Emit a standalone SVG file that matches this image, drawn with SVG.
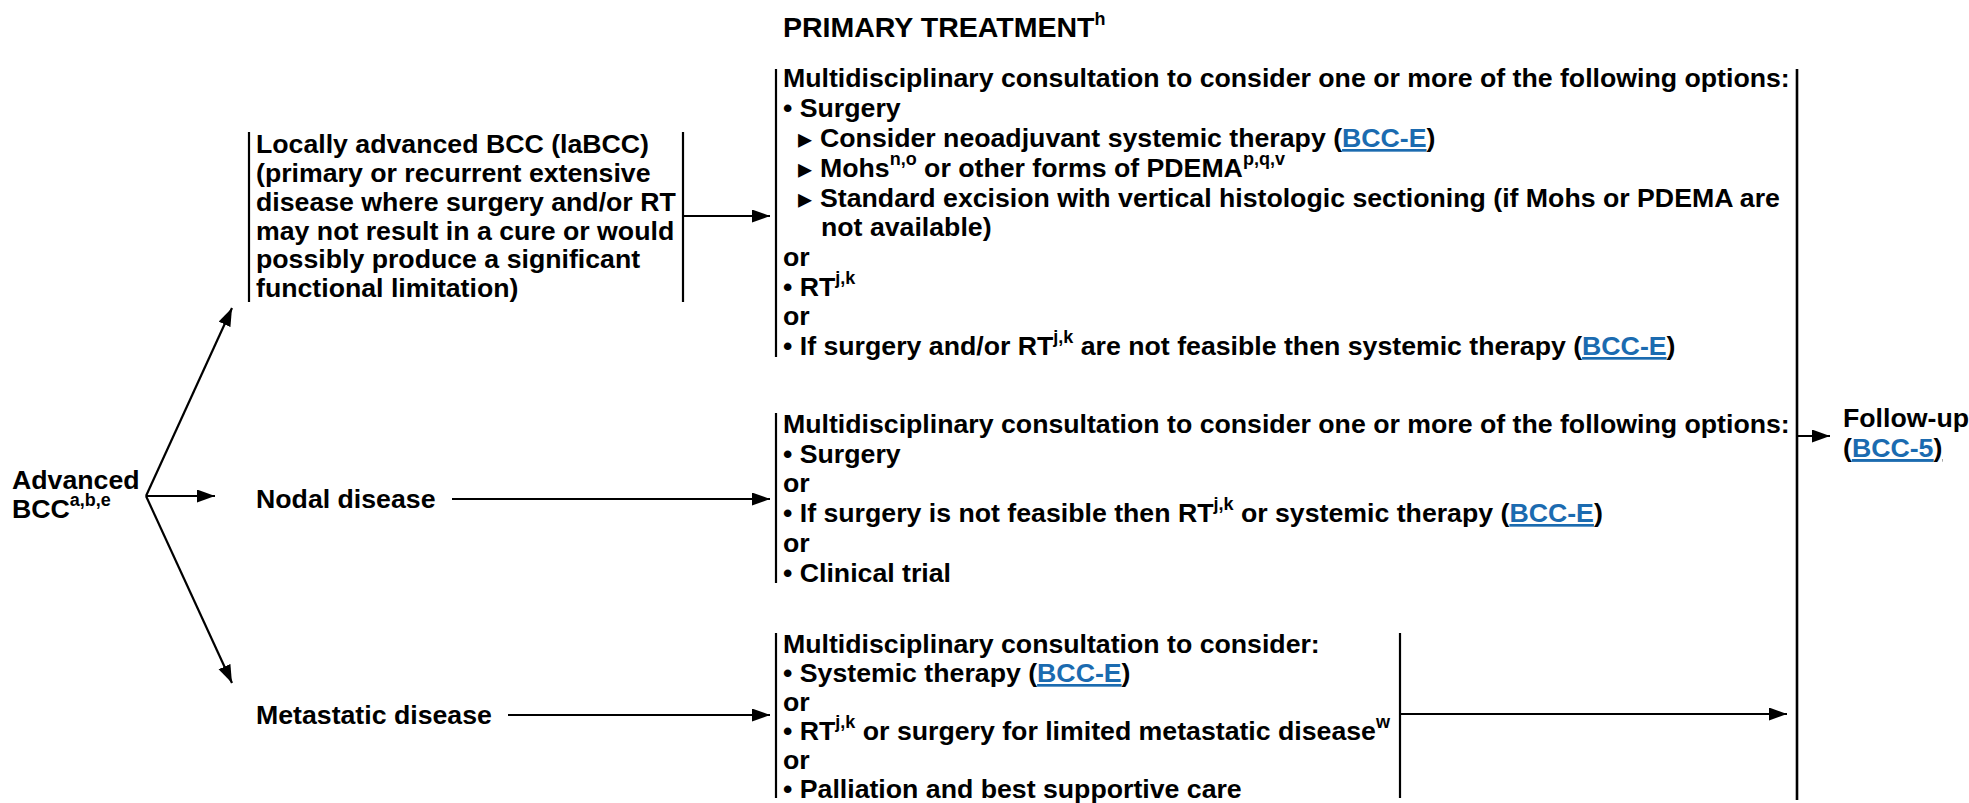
<svg xmlns="http://www.w3.org/2000/svg" width="1969" height="803" viewBox="0 0 1969 803">
<style>
  .t { font-family: "Liberation Sans", Arial, "DejaVu Sans", sans-serif; font-weight: bold; font-size: 26.7px; fill: #000; }
  .ttl { font-size: 28.5px; }
  .sup { font-size: 18px; }
  .link { fill: #1b6bb0; text-decoration: underline; }
  .tri { font-family: "DejaVu Sans", sans-serif; font-size: 28px; fill: #000; }
  .bar { stroke: #000; stroke-width: 2.2; fill: none; }
  .bigbar { stroke: #000; stroke-width: 2.6; fill: none; }
  .conn { stroke: #000; stroke-width: 2.2; fill: none; marker-end: url(#ah); }
</style>
<defs>
  <marker id="ah" markerUnits="userSpaceOnUse" markerWidth="20" markerHeight="14" refX="18" refY="6.5" orient="auto">
    <path d="M0,0 L18,6.5 L0,13 Z" fill="#000"/>
  </marker>
</defs>
<rect width="1969" height="803" fill="#fff"/>

<g id="title">
  <text class="t ttl" x="783" y="37">PRIMARY TREATMENT<tspan class="sup" dy="-12">h</tspan></text>
</g>

<g id="advanced">
  <text class="t" x="12" y="489">Advanced</text>
  <text class="t" x="12" y="518">BCC<tspan class="sup" dy="-12">a,b,e</tspan></text>
</g>

<g id="labcc">
  <line class="bar" x1="249" y1="132" x2="249" y2="302"/>
  <line class="bar" x1="683" y1="132" x2="683" y2="302"/>
  <text class="t" x="256" y="153">Locally advanced BCC (laBCC)</text>
  <text class="t" x="256" y="182">(primary or recurrent extensive</text>
  <text class="t" x="256" y="211">disease where surgery and/or RT</text>
  <text class="t" x="256" y="240">may not result in a cure or would</text>
  <text class="t" x="256" y="268">possibly produce a significant</text>
  <text class="t" x="256" y="297">functional limitation)</text>
</g>

<g id="nodal">
  <text class="t" x="256" y="508">Nodal disease</text>
</g>

<g id="metastatic">
  <text class="t" x="256" y="724">Metastatic disease</text>
</g>

<g id="labcc-treatment">
  <line class="bar" x1="776" y1="69" x2="776" y2="357"/>
  <text class="t" x="783" y="87">Multidisciplinary consultation to consider one or more of the following options:</text>
  <text class="t" x="783" y="117">• Surgery</text>
  <text class="tri" x="798" y="148">▸</text>
  <text class="t" x="820" y="147">Consider neoadjuvant systemic therapy (<tspan class="link">BCC-E</tspan>)</text>
  <text class="tri" x="798" y="178">▸</text>
  <text class="t" x="820" y="177">Mohs<tspan class="sup" dy="-12">n,o</tspan><tspan dy="12"> or other forms of PDEMA</tspan><tspan class="sup" dy="-12">p,q,v</tspan></text>
  <text class="tri" x="798" y="208">▸</text>
  <text class="t" x="820" y="207">Standard excision with vertical histologic sectioning (if Mohs or PDEMA are</text>
  <text class="t" x="821" y="236">not available)</text>
  <text class="t" x="783" y="266">or</text>
  <text class="t" x="783" y="296">• RT<tspan class="sup" dy="-12">j,k</tspan></text>
  <text class="t" x="783" y="325">or</text>
  <text class="t" x="783" y="355">• If surgery and/or RT<tspan class="sup" dy="-12">j,k</tspan><tspan dy="12"> are not feasible then systemic therapy (</tspan><tspan class="link">BCC-E</tspan>)</text>
</g>

<g id="nodal-treatment">
  <line class="bar" x1="776" y1="413" x2="776" y2="583"/>
  <text class="t" x="783" y="433">Multidisciplinary consultation to consider one or more of the following options:</text>
  <text class="t" x="783" y="463">• Surgery</text>
  <text class="t" x="783" y="492">or</text>
  <text class="t" x="783" y="522">• If surgery is not feasible then RT<tspan class="sup" dy="-12">j,k</tspan><tspan dy="12"> or systemic therapy (</tspan><tspan class="link">BCC-E</tspan>)</text>
  <text class="t" x="783" y="552">or</text>
  <text class="t" x="783" y="582">• Clinical trial</text>
</g>

<g id="metastatic-treatment">
  <line class="bar" x1="776" y1="633" x2="776" y2="798"/>
  <line class="bar" x1="1400" y1="633" x2="1400" y2="798"/>
  <text class="t" x="783" y="653">Multidisciplinary consultation to consider:</text>
  <text class="t" x="783" y="682">• Systemic therapy (<tspan class="link">BCC-E</tspan>)</text>
  <text class="t" x="783" y="711">or</text>
  <text class="t" x="783" y="740">• RT<tspan class="sup" dy="-12">j,k</tspan><tspan dy="12"> or surgery for limited metastatic disease</tspan><tspan class="sup" dy="-12">w</tspan></text>
  <text class="t" x="783" y="769">or</text>
  <text class="t" x="783" y="798">• Palliation and best supportive care</text>
</g>

<g id="followup">
  <line class="bigbar" x1="1797" y1="69" x2="1797" y2="800"/>
  <text class="t" x="1843" y="427">Follow-up</text>
  <text class="t" x="1843" y="457" text-decoration="underline">(<tspan class="link">BCC-5</tspan>)</text>
</g>

<g id="connectors">
  <path class="conn" d="M146,496 L232,308"/>
  <path class="conn" d="M146,496 L215,496"/>
  <path class="conn" d="M146,496 L232,683"/>
  <path class="conn" d="M683,216 L770,216"/>
  <path class="conn" d="M452,499 L770,499"/>
  <path class="conn" d="M508,715 L770,715"/>
  <path class="conn" d="M1400,714 L1787,714"/>
  <path class="conn" d="M1797,436 L1830,436"/>
</g>
</svg>
